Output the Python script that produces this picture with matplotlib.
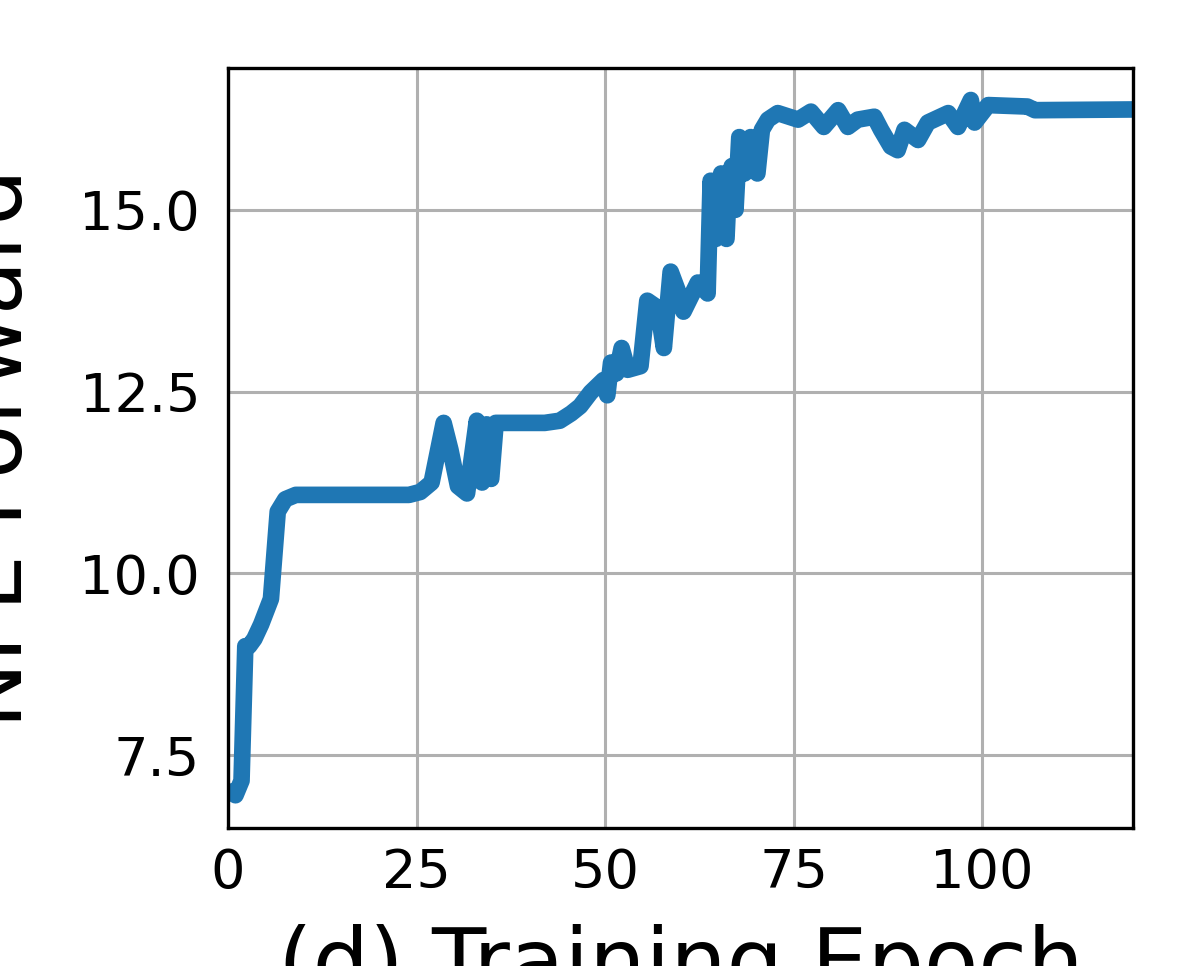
import matplotlib
matplotlib.use("Agg")
import matplotlib.pyplot as plt

# NFE (forward) per training epoch
epochs = [0.3, 1.0, 1.8, 2.3, 2.8, 3.5, 4.4, 5.7, 6.6, 7.6, 9.0, 12, 16, 20, 24,
          25.5, 27, 28.6, 29.5, 30.5, 31.7, 33.0, 33.4, 33.7, 34.0, 34.3, 34.6,
          34.9, 35.5, 38, 42,
          44, 45.5, 46.7, 48.1, 49.8, 50.3, 50.8, 51.5, 52.2, 53.0, 54.7, 55.6,
          57.0, 57.8, 58.7, 59.6, 60.4, 62.3, 63.6, 64.0, 64.35, 64.7, 65.05,
          65.4, 65.75, 66.1, 66.45, 66.8, 67.3, 67.8, 68.2, 68.5, 68.9, 69.3,
          69.7, 70.2, 70.8, 71.6, 72.9, 75.6, 77.3, 79.0, 80.9,
          82.2, 83.5, 85.7, 86.6, 87.9, 88.8, 89.7, 91.5, 92.8, 95.5, 96.8, 98.5,
          99.0, 100.8, 106, 107, 120]
nfe = [7.0, 6.95, 7.15, 9.0, 9.0, 9.1, 9.3, 9.65, 10.85, 11.02, 11.08, 11.08,
       11.08, 11.08, 11.08, 11.12, 11.25, 12.07, 11.7, 11.2, 11.1, 12.1, 11.4,
       11.25, 11.9, 12.05, 11.4, 11.3, 12.07, 12.07, 12.07,
       12.1, 12.2, 12.3, 12.49, 12.66, 12.45,
       12.9, 12.75, 13.1, 12.8, 12.85, 13.75, 13.65, 13.1, 14.15, 13.9, 13.6,
       14.0, 13.85, 15.4, 14.7, 14.6, 15.3,
       15.5, 14.7, 14.6, 15.4, 15.6, 15.0, 16.0, 15.6, 15.5, 15.9, 16.0,
       15.6, 15.5, 16.1, 16.24, 16.33, 16.24, 16.35, 16.14, 16.37,
       16.14, 16.24, 16.28, 16.1, 15.87, 15.82, 16.1, 15.96, 16.2, 16.33,
       16.14, 16.51, 16.2, 16.44, 16.42, 16.37, 16.38]

xticks = [0, 25, 50, 75, 100]
yticks = [7.5, 10.0, 12.5, 15.0]

fig = plt.figure(figsize=(11.96, 9.66), dpi=100)
ax = fig.add_axes([0.1906, 0.1429, 0.7567, 0.7867])

ax.plot(epochs, nfe, color="#1f77b4", linewidth=12,
        solid_joinstyle="round", solid_capstyle="round")

ax.set_xlim(0, 120)
ax.set_ylim(6.5, 16.95)
ax.set_xticks(xticks)
ax.set_yticks(yticks)
ax.set_yticklabels(["%.1f" % v for v in yticks])
ax.grid(True, color="#b0b0b0", linewidth=2.2)
ax.set_axisbelow(True)
ax.tick_params(axis="both", length=0, labelsize=39)
ax.tick_params(axis="y", pad=20)
ax.tick_params(axis="x", pad=14)
for s in ax.spines.values():
    s.set_linewidth(2.4)
    s.set_color("black")

ax.set_xlabel("(d) Training Epoch", fontsize=64, labelpad=18)
ax.set_ylabel("NFE Forward", fontsize=64, labelpad=28)

fig.savefig("out.png", dpi=100)
